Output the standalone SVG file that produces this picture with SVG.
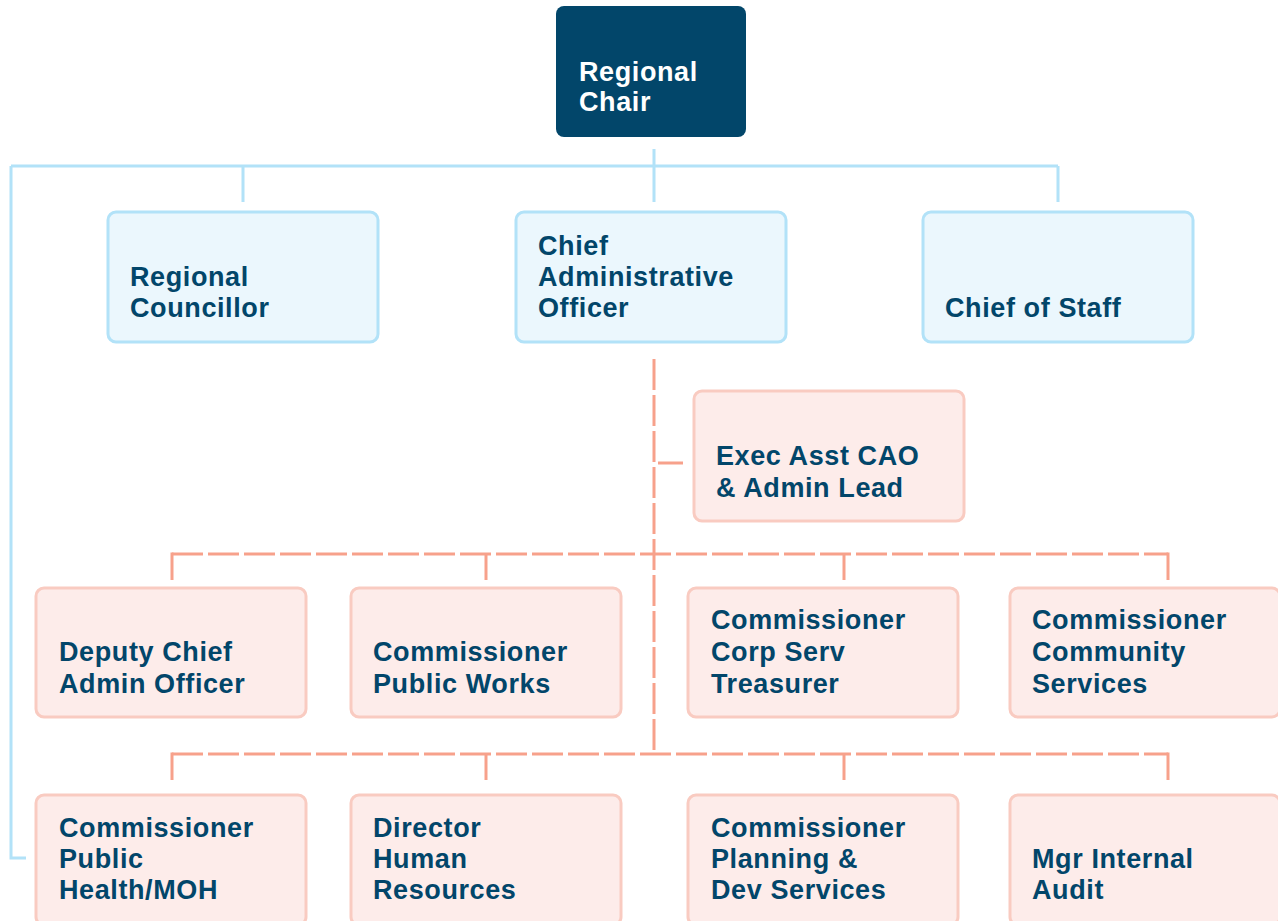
<svg xmlns="http://www.w3.org/2000/svg" width="1278" height="921" viewBox="0 0 1278 921">
<style>
.t{font-family:"Liberation Sans",Arial,sans-serif;font-weight:bold;font-size:27px;letter-spacing:0.6px;fill:#02466a}
.tw{fill:#ffffff}
.blue{fill:#ebf7fd;stroke:#b2e2f8;stroke-width:3}
.pink{fill:#fdecea;stroke:#f9cbc1;stroke-width:3}
.bl{fill:none;stroke:#b2e2f8;stroke-width:3}
.or{fill:none;stroke:#f7a18b;stroke-width:3}
.dash{stroke-dasharray:31 5}
</style>
<rect width="1278" height="921" fill="#ffffff"/>
<g id="connectors">
<path class="bl" d="M654 149V202M11 166H1058M243 166V202M1058 166V202M11 166V858H26"/>
<path class="or dash" d="M654 359V754"/>
<path class="or" d="M658 463H683"/>
<path class="or dash" d="M172 554H1168"/>
<path class="or" d="M172 552.5V580M486 554V580M844 554V580M1168 552.5V580"/>
<path class="or dash" d="M172 754H1168"/>
<path class="or" d="M172 752.5V780M486 754V780M844 754V780M1168 752.5V780"/>
</g>
<g id="regional-chair">
<rect x="556" y="6" width="190" height="131" rx="8" fill="#02466a"/>
<text class="t tw" x="579" y="81">Regional</text>
<text class="t tw" x="579" y="111">Chair</text>
</g>
<g id="regional-councillor">
<rect class="blue" x="108" y="212" width="270" height="130" rx="8"/>
<text class="t" x="130" y="286">Regional</text>
<text class="t" x="130" y="317">Councillor</text>
</g>
<g id="cao">
<rect class="blue" x="516" y="212" width="270" height="130" rx="8"/>
<text class="t" x="538" y="255">Chief</text>
<text class="t" x="538" y="286">Administrative</text>
<text class="t" x="538" y="317">Officer</text>
</g>
<g id="chief-of-staff">
<rect class="blue" x="923" y="212" width="270" height="130" rx="8"/>
<text class="t" x="945" y="317">Chief of Staff</text>
</g>
<g id="exec-asst">
<rect class="pink" x="694" y="391" width="270" height="130" rx="8"/>
<text class="t" x="716" y="465">Exec Asst CAO</text>
<text class="t" x="716" y="497">&amp; Admin Lead</text>
</g>
<g id="deputy-chief">
<rect class="pink" x="36" y="588" width="270" height="129" rx="8"/>
<text class="t" x="59" y="661">Deputy Chief</text>
<text class="t" x="59" y="693">Admin Officer</text>
</g>
<g id="public-works">
<rect class="pink" x="351" y="588" width="270" height="129" rx="8"/>
<text class="t" x="373" y="661">Commissioner</text>
<text class="t" x="373" y="693">Public Works</text>
</g>
<g id="corp-serv">
<rect class="pink" x="688" y="588" width="270" height="129" rx="8"/>
<text class="t" x="711" y="629">Commissioner</text>
<text class="t" x="711" y="661">Corp Serv</text>
<text class="t" x="711" y="693">Treasurer</text>
</g>
<g id="community-services">
<rect class="pink" x="1010" y="588" width="270" height="129" rx="8"/>
<text class="t" x="1032" y="629">Commissioner</text>
<text class="t" x="1032" y="661">Community</text>
<text class="t" x="1032" y="693">Services</text>
</g>
<g id="public-health">
<rect class="pink" x="36" y="795" width="270" height="130" rx="8"/>
<text class="t" x="59" y="837">Commissioner</text>
<text class="t" x="59" y="868">Public</text>
<text class="t" x="59" y="899">Health/MOH</text>
</g>
<g id="human-resources">
<rect class="pink" x="351" y="795" width="270" height="130" rx="8"/>
<text class="t" x="373" y="837">Director</text>
<text class="t" x="373" y="868">Human</text>
<text class="t" x="373" y="899">Resources</text>
</g>
<g id="planning">
<rect class="pink" x="688" y="795" width="270" height="130" rx="8"/>
<text class="t" x="711" y="837">Commissioner</text>
<text class="t" x="711" y="868">Planning &amp;</text>
<text class="t" x="711" y="899">Dev Services</text>
</g>
<g id="internal-audit">
<rect class="pink" x="1010" y="795" width="270" height="130" rx="8"/>
<text class="t" x="1032" y="868">Mgr Internal</text>
<text class="t" x="1032" y="899">Audit</text>
</g>
</svg>
